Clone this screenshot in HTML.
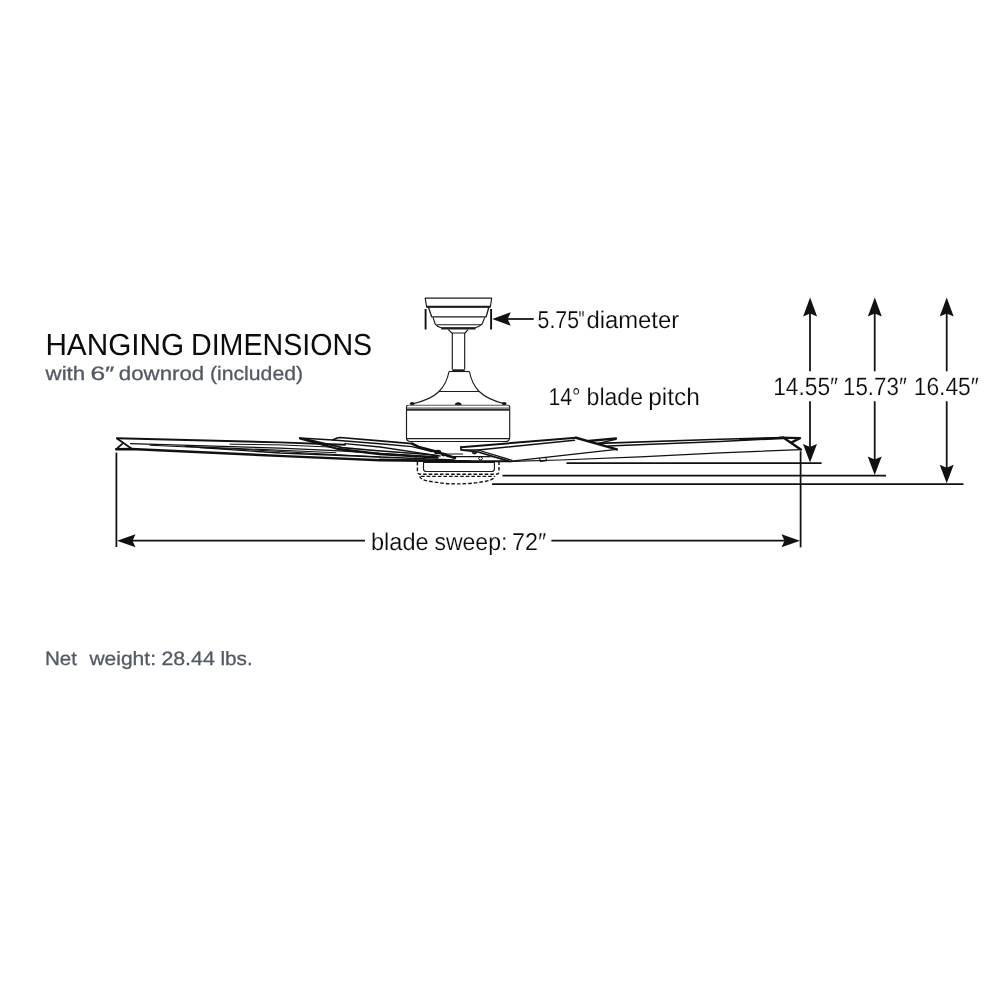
<!DOCTYPE html>
<html lang="en">
<head>
<meta charset="utf-8">
<title>Hanging Dimensions</title>
<style>
  html, body { margin: 0; padding: 0; background: #ffffff; }
  body { width: 1000px; height: 1000px; overflow: hidden; }
  svg { display: block; }
  text { font-family: "Liberation Sans", sans-serif; text-rendering: geometricPrecision; }
  .lbl { font-size: 24.3px; fill: #0a0a0a; stroke: #ffffff; stroke-width: 0.18px; }
  .num { font-size: 25px; }
  .h1 { font-size: 30.4px; fill: #0c0c0c; }
  .sub { font-size: 19.4px; fill: #535a63; stroke: #535a63; stroke-width: 0.3px; }
  .net { font-size: 19.3px; fill: #535a63; stroke: #535a63; stroke-width: 0.3px; }
  .ln { stroke: #1c1c1c; stroke-width: 1.15; fill: none; stroke-linecap: butt; stroke-linejoin: round; }
  .dim { stroke: #111; stroke-width: 1.75; fill: none; }
  .bl { stroke: #111; stroke-width: 1.8; fill: none; stroke-linejoin: round; stroke-linecap: round; }
  .thin { stroke: #111; stroke-width: 1; fill: none; stroke-linejoin: round; stroke-linecap: round; }
  .dash { stroke: #111; stroke-width: 1.4; fill: none; stroke-dasharray: 3.6 2; }
  .ah { fill: #111; stroke: none; }
</style>
</head>
<body>
<svg width="1000" height="1000" viewBox="0 0 1000 1000">
  <rect x="0" y="0" width="1000" height="1000" fill="#ffffff"/>

  <!-- ===== text ===== -->
  <g id="labels" style="filter: brightness(1)">
  <text class="h1" y="354.7"><tspan x="45.4" textLength="138.8" lengthAdjust="spacingAndGlyphs">HANGING</tspan> <tspan x="191" textLength="181.2" lengthAdjust="spacingAndGlyphs">DIMENSIONS</tspan></text>
  <text class="sub" y="379.6"><tspan x="45.6" textLength="39.6" lengthAdjust="spacingAndGlyphs">with</tspan> <tspan x="90.4" textLength="24" lengthAdjust="spacingAndGlyphs">6″</tspan> <tspan x="118.8" textLength="85.4" lengthAdjust="spacingAndGlyphs">downrod</tspan> <tspan x="210" textLength="93" lengthAdjust="spacingAndGlyphs">(included)</tspan></text>
  <text class="net" y="664.5"><tspan x="45" textLength="32" lengthAdjust="spacingAndGlyphs">Net</tspan> <tspan x="89.4" textLength="66.6" lengthAdjust="spacingAndGlyphs">weight:</tspan> <tspan x="161.4" textLength="53.4" lengthAdjust="spacingAndGlyphs">28.44</tspan> <tspan x="220.4" textLength="32.4" lengthAdjust="spacingAndGlyphs">lbs.</tspan></text>

  <text class="lbl" y="327.8"><tspan x="537.6" textLength="41.4" lengthAdjust="spacingAndGlyphs">5.75</tspan><tspan x="578.6" textLength="6" lengthAdjust="spacingAndGlyphs">"</tspan><tspan x="586.4" textLength="92.8" lengthAdjust="spacingAndGlyphs">diameter</tspan></text>
  <text class="lbl" y="405.2"><tspan x="548.4" textLength="32" lengthAdjust="spacingAndGlyphs">14°</tspan> <tspan x="586.6" textLength="56.4" lengthAdjust="spacingAndGlyphs">blade</tspan> <tspan x="648.2" textLength="51.6" lengthAdjust="spacingAndGlyphs">pitch</tspan></text>
  <text class="lbl" y="549.6"><tspan x="371" textLength="57.6" lengthAdjust="spacingAndGlyphs">blade</tspan> <tspan x="434.4" textLength="73" lengthAdjust="spacingAndGlyphs">sweep:</tspan> <tspan x="512" textLength="34.2" lengthAdjust="spacingAndGlyphs">72″</tspan></text>
  <text class="lbl" x="773.2" y="394.5" textLength="65" lengthAdjust="spacingAndGlyphs" style="font-size:25px">14.55″</text>
  <text class="lbl" x="843" y="394.5" textLength="63.8" lengthAdjust="spacingAndGlyphs" style="font-size:25px">15.73″</text>
  <text class="lbl" x="913.7" y="394.5" textLength="65.2" lengthAdjust="spacingAndGlyphs" style="font-size:25px">16.45″</text>
  </g>

  <!-- ===== dimension lines ===== -->
  <g id="dims">
    <!-- reference horizontals -->
    <path class="dim" d="M566.5 463.1H821.6"/>
    <path class="dim" d="M502.5 475.7H886"/>
    <path class="dim" d="M492 484H963.5"/>

    <!-- vertical arrows -->
    <path class="dim" d="M810 312V371.2M810 401.2V448"/>
    <path class="dim" d="M874.7 312V371.2M874.7 401.2V460"/>
    <path class="dim" d="M946.7 312V371.2M946.7 401.2V468"/>
    <path class="ah" d="M810.1 297.400L817.100 316.4L810.1 313.4L803.1 316.4Z"/>
    <path class="ah" d="M874.8 297.4L881.8 316.4L874.8 313.4L867.8 316.4Z"/>
    <path class="ah" d="M946.7 297.4L953.7 316.4L946.7 313.4L939.7 316.4Z"/>
    <path class="ah" d="M810 462.6L817 444L810 447L803 444Z"/>
    <path class="ah" d="M874.7 475L881.7 456.5L874.7 459.5L867.7 456.5Z"/>
    <path class="ah" d="M946.7 483.2L953.7 464.7L946.7 467.7L939.7 464.7Z"/>

    <!-- blade sweep -->
    <path class="dim" d="M116.4 452.6V547"/>
    <path class="dim" d="M800.6 451.2V547.4"/>
    <path class="dim" d="M130 540.7H365M551.4 540.7H786"/>
    <path class="ah" d="M117 540.7L135.5 534.2L132.500 540.7L135.5 547.2Z"/>
    <path class="ah" d="M800 540.7L781.5 534.2L784.5 540.7L781.5 547.2Z"/>

    <!-- diameter -->
    <path class="dim" d="M425.6 308.9V329.6M491.1 308.9V329.600" style="stroke-width:1.9"/>
    <path class="dim" d="M506 319H533.7"/>
    <path class="ah" d="M492.2 319L510.8 312.2L507.6 319L510.8 325.8Z"/>
  </g>

  <!-- ===== fan ===== -->
  <g id="fan">
    <!-- canopy -->
    <path class="ln" d="M425.2 298.1H491.7L490.3 306.8H426.6Z"/>
    <path class="ln" d="M426.6 306.8H490.3" style="stroke-width:1.9"/>
    <path class="ln" d="M428.5 307.4L431.7 316.9H486.100L488.8 307.4" style="stroke-width:1.4"/>
    <path class="ln" d="M433 317.4L435.3 324.2Q437 326.6 441.1 327.8H475.3Q479.6 326.6 482 324.2L484.8 317.4"/>
    <path class="ln" d="M437 324.7H481" style="stroke-width:1.1"/>
    <path class="ln" d="M441.300 328.5H475.6" style="stroke-width:2.2"/>
    <path class="ln" d="M448.300 329.6L451.9 333H465L468.100 329.6"/>
    <!-- downrod -->
    <path class="ln" d="M452.3 333V369.6M464.7 333V369.6"/>
    <path class="ln" d="M452.3 370.2H464.7" style="stroke-width:1.8"/>
    <!-- motor yoke / upper housing -->
    <path class="ln" d="M449 371.5H469.4"/>
    <path class="ln" d="M449 371.5C447.6 379 444 386.5 439 391.5C433 397.5 423 401.6 411.5 404.2"/>
    <path class="ln" d="M469.4 371.5C470.8 379 474.4 386.5 479.2 391.5C485.2 397.5 495.2 401.6 506 404.2"/>
    <path class="ln" d="M439 391.5H479.2"/>
    <!-- screws -->
    <ellipse cx="412.2" cy="403.6" rx="2.4" ry="1.7" fill="#111"/>
    <path d="M454.8 405Q455.2 402.2 458.2 402.2Q461.2 402.2 461.6 405Z" fill="#111"/>
    <ellipse cx="504.2" cy="403.6" rx="2.4" ry="1.7" fill="#111"/>
    <!-- motor body -->
    <path d="M408 405.200H508Q509.7 405.2 509.7 406.8V437.5Q509.7 441.5 505.600 441.5H410.600Q406.5 441.5 406.5 437.5V406.800Q406.5 405.2 408 405.2Z" fill="#fff" stroke="none"/>
    <path class="ln" d="M408 405.3H508" style="stroke:#555;stroke-width:1.1"/>
    <path class="ln" d="M408 405.2Q406.5 405.2 406.5 406.8V437.5Q406.5 441.5 410.6 441.5H505.6Q509.7 441.5 509.7 437.5V406.8Q509.7 405.2 508 405.2"/>
    <path d="M407 408.2H509" stroke="#8c8c8c" stroke-width="1.8" fill="none"/>
    <path d="M407 409.900H509" stroke="#2b2b2b" stroke-width="1.900" fill="none"/>
    <path class="ln" d="M406.4 438.6H509.6"/>

    <!-- light kit -->
    <path class="ln" d="M423.5 462.5H494.4V469Q494.4 471.5 491.500 471.5H426.400Q423.5 471.5 423.5 469Z"/>
    <path class="dash" d="M417.4 462V471.6Q417.4 474.3 420.4 474.3H496Q499 474.3 499 471.6V462"/>
    <path class="dash" d="M421 476.4H495"/>
    <path class="dash" d="M419.8 476.2Q420 479.6 429 481.2Q457.5 486.600 486 481.2Q494.4 479.6 494.6 476.2"/>
  </g>

  <!-- ===== blades ===== -->
  <g id="blades">
    <!-- left long blade -->
    <path class="bl" d="M117 438.3L280 442.4L345 444.8" style="stroke-width:1.9"/>
    <path class="bl" d="M117 438.5L131.4 448.6"/>
    <path class="bl" d="M116.3 449.2L122.2 443.8"/>
    <path class="bl" d="M116.3 449.2L131.4 449L290 456.4L380 460.2L470 461.4" style="stroke-width:2.4"/>
    <path class="thin" d="M130.6 443.6L280 448.2L335 450.6L380 453.4L437 457" style="stroke-width:1.3"/>
    <path class="thin" d="M200 447.6L280 453L380 457L454 460" style="stroke-width:1.4"/>
    <path class="thin" d="M150 445.2L250 449.8L320 453.7L380 457" style="stroke-width:1.1"/>
    <path class="thin" d="M185 446.4L260 449.4L320 452L336 452.8" style="stroke-width:1.1"/>
    <path class="thin" d="M230 444.2L280 444.9L330 447" style="stroke-width:1"/>
    <!-- left rear blade -->
    <path class="bl" d="M300 438L332.7 440L337 438L340 437.5L380 440.9L412 443.7" style="stroke-width:1.7"/>
    <path class="bl" d="M412 443.700L418.7 446.9L434 450.9L444.8 454.5L455 458" style="stroke-width:2.6"/>
    <path class="bl" d="M300 438.3L338 449L379.5 454L437.600 457.6" style="stroke-width:2.3"/>
    <path class="thin" d="M306 439L342 447.600L378 450.8L425 454.2L440 456" style="stroke-width:1.600"/>
    <path class="thin" d="M332.7 440L380 443.8L412 446.600L432 451.600" style="stroke-width:1.4"/>
    <path class="thin" d="M345 443.6L380 447L437.6 455.600" style="stroke-width:1.3"/>
    <!-- hub -->
    <ellipse cx="437.6" cy="452" rx="3.6" ry="2.3" fill="#111"/>
    <ellipse cx="443.5" cy="454.6" rx="2.6" ry="1.8" fill="#111"/>
    <path class="thin" d="M444.5 454H462.6M447 456.6H500" style="stroke-width:1.2"/>
    <path class="bl" d="M380 459.4L470 461.2H512" style="stroke-width:2"/>
    <path class="thin" d="M416 457.4V461M424 458V461" />

    <!-- right front blade -->
    <path d="M461 447L576 437.6L616.8 449.4L512 461L461 450Z" fill="#fff" stroke="none"/>
    <path class="bl" d="M461 447.2L576 437.7" style="stroke-width:2"/>
    <path class="bl" d="M478 450L574.5 440.2" style="stroke-width:1.5"/>
    <path class="bl" d="M576 437.7L616.8 449.4" style="stroke-width:2.5"/>
    <path class="bl" d="M616.8 449.4L512 461.2" style="stroke-width:1.3"/>
    <path class="bl" d="M461 447.2V450L478.200 452L509.4 461.4" style="stroke-width:1.7"/>
    <path class="bl" d="M462 450L478 450L512 460.4" style="stroke-width:1.3"/>
    <ellipse cx="474.5" cy="452.4" rx="2.2" ry="1.5" fill="#333" stroke="#111" stroke-width="1"/>
    <ellipse cx="480.5" cy="458.4" rx="2" ry="1.4" fill="#fff" stroke="#111" stroke-width="1"/>
    <!-- right rear blade -->
    <path class="bl" d="M588.8 441L616 438.4" style="stroke-width:2.3"/>
    <path class="bl" d="M616 439.2L598.4 443.4" style="stroke-width:1.4"/>
    <!-- right long blade -->
    <path class="bl" d="M598.4 443.4L720 439.2L783.2 437.6" style="stroke-width:1.6"/>
    <path class="thin" d="M608 446L720 441.5L783.2 438.4" style="stroke-width:1.5"/>
    <path class="bl" d="M740 439.6L783.2 437.9" style="stroke-width:1.6"/>
    <path class="bl" d="M780 437.7L800 438.2L791.2 442.600" style="stroke-width:2.3"/>
    <path class="bl" d="M783.2 437.6L800.8 449.6" style="stroke-width:2.4"/>
    <path class="thin" d="M800.8 449.6L720 452.8L640 456.8L560 460L512 461.4" style="stroke-width:1.2"/>
    <path class="thin" d="M539.600 458.6L540.4 461.4L546.600 460.6L545.8 457.900" style="stroke-width:1.1" fill="#fff"/>
  </g>
</svg>
</body>
</html>
